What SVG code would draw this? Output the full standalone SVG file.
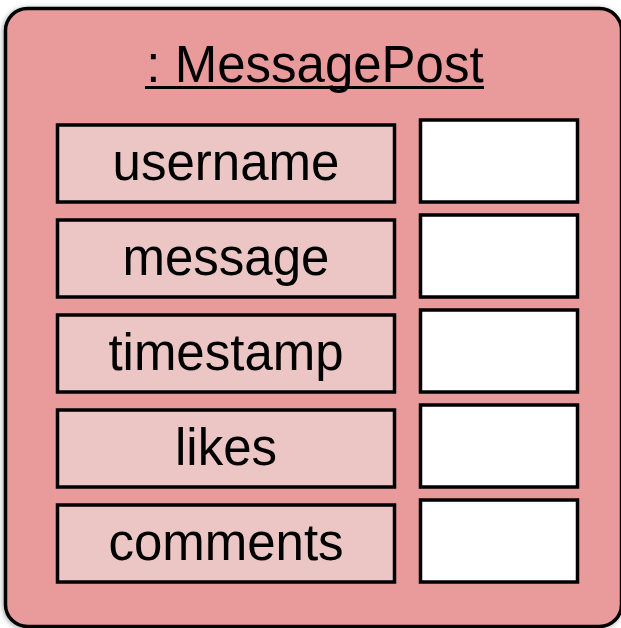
<svg xmlns="http://www.w3.org/2000/svg" width="621" height="628" viewBox="0 0 621 628">
<defs>
<filter id="sh" x="-10%" y="-10%" width="120%" height="120%">
<feDropShadow dx="-1" dy="1" stdDeviation="2.5" flood-color="#000" flood-opacity="0.35"/>
</filter>
<style>
.outer{fill:#E99B9B;stroke:#000;stroke-width:3.5}
.attr{fill:#ECC6C4;stroke:#000;stroke-width:3.5}
.val{fill:#FFFFFF;stroke:#000;stroke-width:3.5}
.lbl{font-family:"Liberation Sans",Arial,sans-serif;font-size:51px;fill:#000;text-anchor:middle}
</style>
</defs>
<rect width="621" height="628" fill="#FFFFFF"/>
<g id="object">
<rect class="outer" x="5.5" y="8.5" width="616" height="618" rx="22" filter="url(#sh)"/>
<text class="lbl" x="315" y="82">: MessagePost</text>
<line x1="145" y1="87.5" x2="484" y2="87.5" stroke="#000" stroke-width="3"/>
</g>
<g id="username">
<rect class="attr" x="57.5" y="125" width="337" height="77"/>
<text class="lbl" x="226" y="180">username</text>
<rect class="val" x="420.5" y="120" width="157" height="82"/>
</g>
<g id="message">
<rect class="attr" x="57.5" y="220" width="337" height="77"/>
<text class="lbl" x="226" y="275">message</text>
<rect class="val" x="420.5" y="215" width="157" height="82"/>
</g>
<g id="timestamp">
<rect class="attr" x="57.5" y="315" width="337" height="77"/>
<text class="lbl" x="226" y="370">timestamp</text>
<rect class="val" x="420.5" y="310" width="157" height="82"/>
</g>
<g id="likes">
<rect class="attr" x="57.5" y="410" width="337" height="77"/>
<text class="lbl" x="226" y="465">likes</text>
<rect class="val" x="420.5" y="405" width="157" height="82"/>
</g>
<g id="comments">
<rect class="attr" x="57.5" y="505" width="337" height="77"/>
<text class="lbl" x="226" y="560">comments</text>
<rect class="val" x="420.5" y="500" width="157" height="82"/>
</g>
<g id="connectors"/>
</svg>
